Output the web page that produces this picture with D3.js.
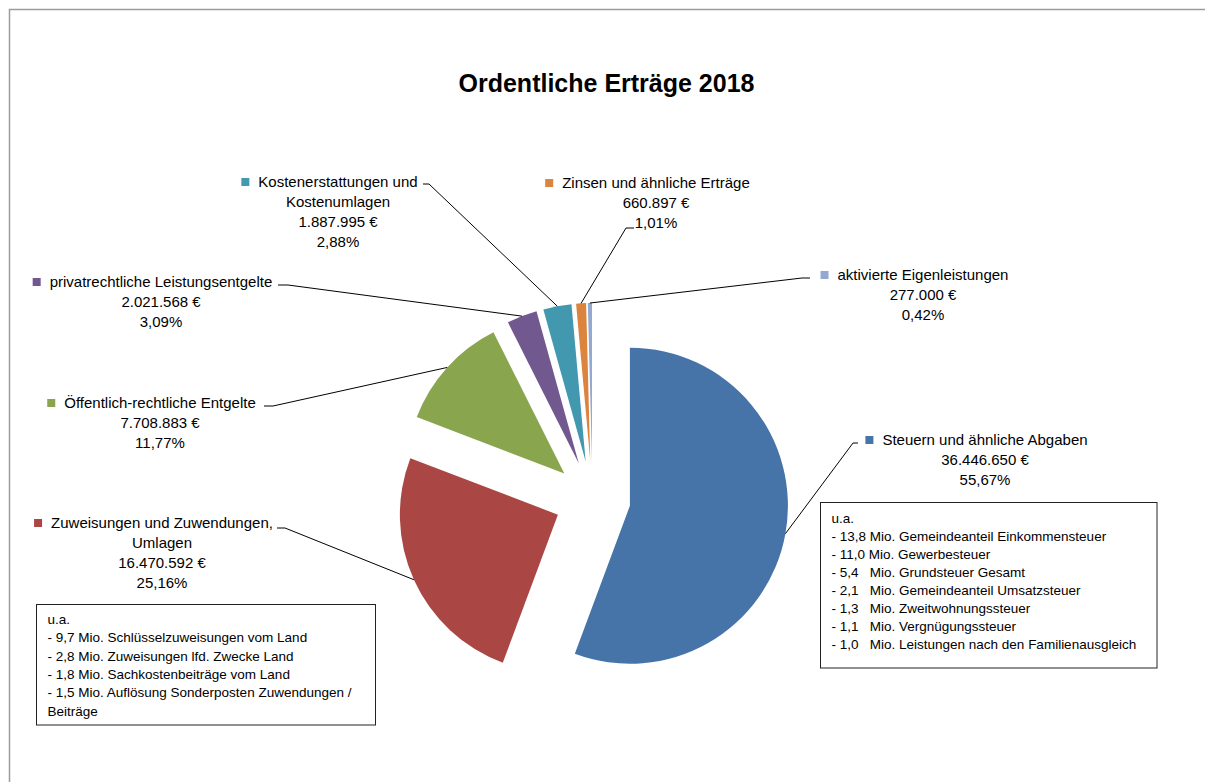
<!DOCTYPE html>
<html>
<head>
<meta charset="utf-8">
<script src="https://cdn.jsdelivr.net/npm/d3@7"></script>
<style>
  body { margin: 0; background: #fff; }
  svg text { font-family: "Liberation Sans", Arial, sans-serif; fill: #000; }
</style>
</head>
<body>
<div id="chart"></div>
<script>
// Ordentliche Erträge 2018
var categoryLines = [
    ["Steuern und ähnliche Abgaben"],
    ["Zuweisungen und Zuwendungen,", "Umlagen"],
    ["Öffentlich-rechtliche Entgelte"],
    ["privatrechtliche Leistungsentgelte"],
    ["Kostenerstattungen und", "Kostenumlagen"],
    ["Zinsen und ähnliche Erträge"],
    ["aktivierte Eigenleistungen"]
];
var values = [36446650, 16470592, 7708883, 2021568, 1887995, 660897, 277000];
var colors = ["#4674a8", "#aa4744", "#89a54e", "#71588f", "#4198af", "#db843d", "#93a9cf"];

var steuernDetails = [
    "u.a.",
    "- 13,8 Mio. Gemeindeanteil Einkommensteuer",
    "- 11,0 Mio. Gewerbesteuer",
    "- 5,4   Mio. Grundsteuer Gesamt",
    "- 2,1   Mio. Gemeindeanteil Umsatzsteuer",
    "- 1,3   Mio. Zweitwohnungssteuer",
    "- 1,1   Mio. Vergnügungssteuer",
    "- 1,0   Mio. Leistungen nach den Familienausgleich"
];
var zuweisungenDetails = [
    "u.a.",
    "- 9,7 Mio. Schlüsselzuweisungen vom Land",
    "- 2,8 Mio. Zuweisungen lfd. Zwecke Land",
    "- 1,8 Mio. Sachkostenbeiträge vom Land",
    "- 1,5 Mio. Auflösung Sonderposten Zuwendungen /",
    "Beiträge"
];

// label placement (text centre, first line y, leader bend and end)
var labelLayout = [
    {x: 985, y: 440, bend: [853, 443], end: 858},
    {x: 162, y: 523, bend: [285, 528], end: 277},
    {x: 160, y: 403, bend: [273, 406], end: 264},
    {x: 161, y: 282, bend: [288, 285], end: 278},
    {x: 338, y: 182, bend: [429, 184], end: 423},
    {x: 656, y: 183, bend: [626, 228], end: 634},
    {x: 923, y: 275, bend: [802, 278], end: 810}
];

var width = 1205, height = 782;
var cx = 592.5, cy = 499, radius = 158, explode = 38;

var de = d3.formatLocale({decimal: ",", thousands: ".", grouping: [3], currency: ["", " €"]});
var fmtMoney = de.format("$,.0f");
var fmtPct = de.format(".2%");
var total = d3.sum(values);

var svg = d3.select("#chart").append("svg")
    .attr("width", width)
    .attr("height", height);

// chart frame
svg.append("path")
    .attr("d", "M9.5," + height + "V9.5H" + width)
    .attr("fill", "none")
    .attr("stroke", "#9c9c9c")
    .attr("stroke-width", 1.5);

// title
svg.append("text")
    .attr("x", 606.5)
    .attr("y", 92)
    .attr("text-anchor", "middle")
    .style("font-size", "25px")
    .style("font-weight", "bold")
    .text("Ordentliche Erträge 2018");

var pie = d3.pie().sort(null).value(function(d) { return d; });
var arcs = pie(values);
var arc = d3.arc().innerRadius(0).outerRadius(radius);

var g = svg.append("g")
    .attr("transform", "translate(" + cx + "," + cy + ")");

g.selectAll("path.slice")
    .data(arcs)
    .enter().append("path")
    .attr("class", "slice")
    .attr("fill", function(d, i) { return colors[i]; })
    .attr("transform", function(d) {
        var p = d3.pointRadial((d.startAngle + d.endAngle) / 2, explode);
        return "translate(" + p[0] + "," + p[1] + ")";
    })
    .attr("d", arc);

// leader lines
var line = d3.line();
arcs.forEach(function(d, i) {
    var lay = labelLayout[i];
    var p = d3.pointRadial((d.startAngle + d.endAngle) / 2, explode + radius);
    svg.append("path")
        .attr("d", line([[cx + p[0], cy + p[1]], lay.bend, [lay.end, lay.bend[1]]]))
        .attr("fill", "none")
        .attr("stroke", "#000")
        .attr("stroke-width", 1);
});

// data labels
arcs.forEach(function(d, i) {
    var lay = labelLayout[i];
    var lines = categoryLines[i].concat([fmtMoney(d.value), fmtPct(d.value / total)]);
    var first;
    lines.forEach(function(t, k) {
        var txt = svg.append("text")
            .attr("x", lay.x)
            .attr("y", lay.y + k * 20)
            .attr("dy", "0.35em")
            .attr("text-anchor", "middle")
            .style("font-size", "15px")
            .text(t);
        if (k === 0) first = txt;
    });
    var bb = first.node().getBBox();
    svg.append("rect")
        .attr("x", bb.x - 17)
        .attr("y", lay.y - 4)
        .attr("width", 8)
        .attr("height", 8)
        .attr("fill", colors[i]);
});

// detail boxes
function detailBox(x, y, w, h, lines, y0, step) {
    svg.append("rect")
        .attr("x", x).attr("y", y)
        .attr("width", w).attr("height", h)
        .attr("fill", "#fff")
        .attr("stroke", "#222")
        .attr("stroke-width", 1);
    lines.forEach(function(t, k) {
        svg.append("text")
            .attr("x", x + 11)
            .attr("y", y0 + k * step)
            .attr("dy", "0.35em")
            .style("font-size", "13.5px")
            .style("white-space", "pre")
            .text(t);
    });
}
detailBox(820.5, 502.5, 336.5, 165.5, steuernDetails, 518, 18.1);
detailBox(36.5, 604.5, 339, 120.5, zuweisungenDetails, 619, 18.4);
</script>
</body>
</html>
